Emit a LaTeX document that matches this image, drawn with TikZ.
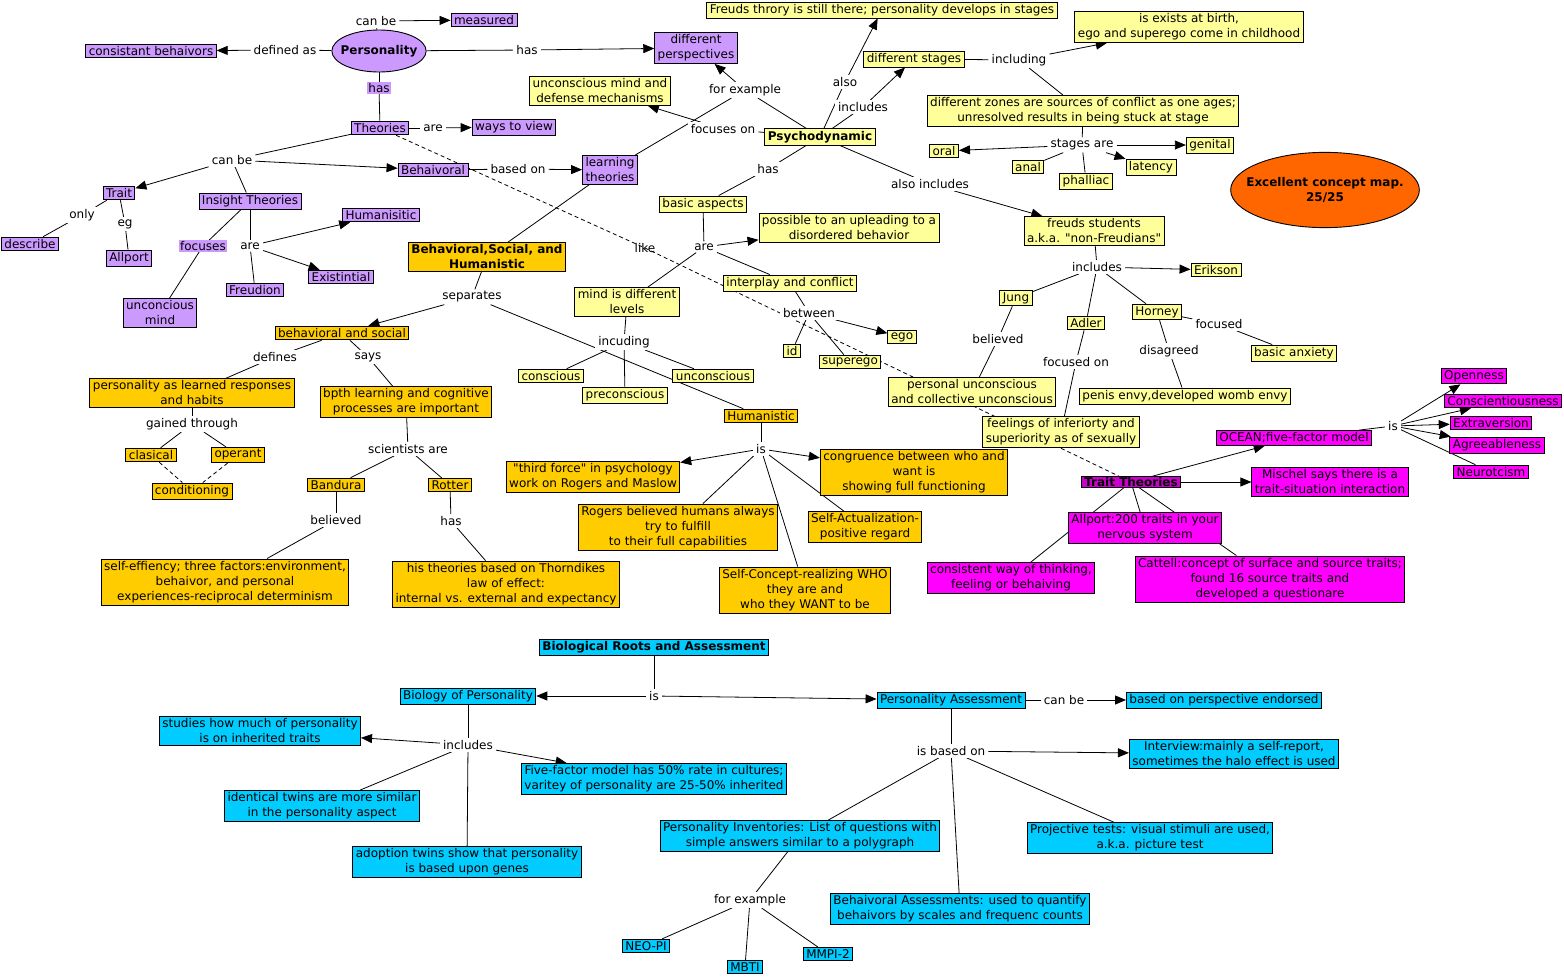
\documentclass[tikz,border=0pt]{standalone}
\usepackage{fontspec}
\setmainfont{DejaVu Sans}[Ligatures=TeXOff]
\usetikzlibrary{arrows.meta,backgrounds,shapes.geometric}
\definecolor{cpur}{RGB}{204,153,255}
\definecolor{cyel}{RGB}{255,255,153}
\definecolor{corg}{RGB}{255,204,0}
\definecolor{cmag}{RGB}{255,0,255}
\definecolor{cdmag}{RGB}{204,0,204}
\definecolor{ccya}{RGB}{0,204,255}
\definecolor{cexc}{RGB}{255,102,0}
\newcommand{\mapfont}{\fontsize{12}{15}\selectfont}
\tikzset{
  txt/.style={font=\mapfont},
  bld/.style={font=\mapfont\bfseries},
  box/.style={txt,draw=black,line width=0.9pt,inner xsep=3pt,inner ysep=2.2pt,align=center},
  pur/.style={box,fill=cpur},
  yel/.style={box,fill=cyel},
  org/.style={box,fill=corg},
  mag/.style={box,fill=cmag},
  cya/.style={box,fill=ccya},
  lab/.style={txt,fill=white,inner xsep=3pt,inner ysep=2pt,align=center},
  labp/.style={lab,fill=cpur,inner sep=1pt},
  ln/.style={line width=0.8pt,black},
  ar/.style={ln,-{Triangle[length=11pt,width=9pt]}},
  dl/.style={ln,dashed,dash pattern=on 4pt off 3pt},
}
\begin{document}
\begin{tikzpicture}[x=1pt,y=-1pt]
\useasboundingbox (0,0) rectangle (1564,977);
% ---------- purple ----------
\node[ellipse,draw,line width=0.9pt,fill=cpur,bld,inner xsep=-5pt,inner ysep=9pt] (pers) at (379,51) {Personality};
\node[pur] (meas) at (484,20) {measured};
\node[pur] (cons) at (151,51) {consistant behaivors};
\node[pur] (dper) at (696,48) {different\\perspectives};
\node[pur] (theo) at (380,128) {Theories};
\node[pur] (ways) at (514,127) {ways to view};
\node[pur] (behv) at (433,170) {Behaivoral};
\node[pur] (lrnt) at (610,170) {learning\\theories};
\node[pur] (trait) at (119,193) {Trait};
\node[pur] (insi) at (250,201) {Insight Theories};
\node[pur] (huma) at (381,215) {Humanisitic};
\node[pur] (desc) at (30,244) {describe};
\node[pur] (allp) at (129,258) {Allport};
\node[pur] (exis) at (341,277) {Existintial};
\node[pur] (freu) at (255,290) {Freudion};
\node[pur] (unmi) at (160,313) {unconcious\\mind};
\node[lab] (lcanbeA) at (376,21) {can be};
\node[lab] (ldefas) at (285,50) {defined as};
\node[lab] (lhasA) at (527,50) {has};
\node[labp] (lhasB) at (379,88) {has};
\node[lab] (lareA) at (433,128) {are};
\node[lab] (lcanbeB) at (232,160) {can be};
\node[lab] (lbasedon) at (518,169) {based on};
\node[lab] (lonly) at (82,215) {only};
\node[lab] (leg) at (125,224) {eg};
\node[labp] (lfocuses) at (203,246) {focuses};
\node[lab] (lareB) at (250,246) {are};
\node[lab,fill=none] (llike) at (645,248) {like};
% ---------- orange ----------
\node[org,bld] (bsh) at (487,257) {Behavioral,Social, and\\Humanistic};
\node[org] (bas) at (342,333) {behavioral and social};
\node[org] (plr) at (192,393) {personality as learned responses\\and habits};
\node[org] (bpth) at (406,402) {bpth learning and cognitive\\processes are important};
\node[org] (clas) at (151,455) {clasical};
\node[org] (oper) at (238,455) {operant};
\node[org] (cond) at (192,491) {conditioning};
\node[org] (band) at (336,485) {Bandura};
\node[org] (rott) at (450,485) {Rotter};
\node[org] (seff) at (225,582) {self-effiency; three factors:environment,\\behaivor, and personal\\experiences-reciprocal determinism};
\node[org] (thor) at (506,584) {his theories based on Thorndikes\\law of effect:\\internal vs. external and expectancy};
\node[org] (hum) at (761,416) {Humanistic};
\node[org] (thf) at (593,477) {"third force" in psychology\\work on Rogers and Maslow};
\node[org] (roge) at (678,527) {Rogers believed humans always\\try to fulfill\\to their full capabilities};
\node[org] (cong) at (914,472) {congruence between who and\\want is\\showing full functioning};
\node[org] (sact) at (865,527) {Self-Actualization-\\positive regard};
\node[org] (scon) at (805,590) {Self-Concept-realizing WHO\\they are and\\who they WANT to be};
\node[lab] (lsep) at (472,297) {separates};
\node[lab] (ldef) at (275,357) {defines};
\node[lab] (lsays) at (368,357) {says};
\node[lab] (lgain) at (192,424) {gained through};
\node[lab] (lsci) at (408,449) {scientists are};
\node[lab] (lbelA) at (336,520) {believed};
\node[lab] (lhasC) at (451,521) {has};
\node[lab] (lisA) at (761,449) {is};
% ---------- yellow ----------
\node[yel,bld] (psy) at (820,137) {Psychodynamic};
\node[yel] (frth) at (882,10) {Freuds throry is still there; personality develops in stages};
\node[yel] (dsta) at (914,59) {different stages};
\node[yel] (iexi) at (1189,27) {is exists at birth,\\ego and superego come in childhood};
\node[yel] (dzon) at (1083,111) {different zones are sources of conflict as one ages;\\unresolved results in being stuck at stage};
\node[yel] (umdm) at (600,91) {unconscious mind and\\defense mechanisms};
\node[yel] (oral) at (944,151) {oral};
\node[yel] (anal) at (1028,167) {anal};
\node[yel] (phal) at (1086,181) {phalliac};
\node[yel] (late) at (1151,167) {latency};
\node[yel] (geni) at (1210,145) {genital};
\node[yel] (basp) at (703,204) {basic aspects};
\node[yel] (poss) at (849,228) {possible to an upleading to a\\disordered behavior};
\node[yel] (intp) at (790,283) {interplay and conflict};
\node[yel] (mind) at (627,302) {mind is different\\levels};
\node[yel] (id) at (792,351) {id};
\node[yel] (ego) at (902,337) {ego};
\node[yel] (supe) at (850,362) {superego};
\node[yel] (consc) at (551,376) {conscious};
\node[yel] (prec) at (625,395) {preconscious};
\node[yel] (uncon) at (713,376) {unconscious};
\node[yel] (fstu) at (1094,231) {freuds students\\a.k.a. "non-Freudians"};
\node[yel] (erik) at (1216,270) {Erikson};
\node[yel] (jung) at (1016,298) {Jung};
\node[yel] (adle) at (1086,323) {Adler};
\node[yel] (horn) at (1157,312) {Horney};
\node[yel] (banx) at (1294,353) {basic anxiety};
\node[yel] (puc) at (972,392) {personal unconscious\\and collective unconscious};
\node[yel] (peni) at (1185,396) {penis envy,developed womb envy};
\node[yel] (feel) at (1061,432) {feelings of inferiorty and\\superiority as of sexually};
\node[lab] (lforex) at (745,90) {for example};
\node[lab] (lfocon) at (723,129) {focuses on};
\node[lab] (lalso) at (845,82) {also};
\node[lab] (linclA) at (863,107) {includes};
\node[lab] (linclB) at (1019,60) {including};
\node[lab] (lstag) at (1082,145) {stages are};
\node[lab] (lhasD) at (768,169) {has};
\node[lab] (lalsoi) at (930,184) {also includes};
\node[lab] (lareC) at (704,247) {are};
\node[lab] (lbetw) at (809,313) {between};
\node[lab] (lincu) at (624,342) {incuding};
\node[lab] (linclC) at (1097,267) {includes};
\node[lab] (lbelB) at (998,339) {believed};
\node[lab] (lfoconB) at (1076,362) {focused on};
\node[lab] (ldisa) at (1169,351) {disagreed};
\node[lab] (lfocd) at (1219,324) {focused};
% ---------- magenta ----------
\node[mag,fill=cdmag,bld,inner ysep=0.5pt] (trth) at (1131,482) {Trait Theories};
\node[mag] (ocea) at (1294,438) {OCEAN;five-factor model};
\node[mag] (misc) at (1330,482) {Mischel says there is a\\trait-situation interaction};
\node[mag] (allpB) at (1145,528) {Allport:200 traits in your\\nervous system};
\node[mag] (cwot) at (1011,578) {consistent way of thinking,\\feeling or behaiving};
\node[mag] (catt) at (1270,579) {Cattell:concept of surface and source traits;\\found 16 source traits and\\developed a questionare};
\node[mag] (open) at (1474,376) {Openness};
\node[mag] (consB) at (1503,401) {Conscientiousness};
\node[mag] (extr) at (1491,423) {Extraversion};
\node[mag] (agre) at (1497,445) {Agreeableness};
\node[mag] (neur) at (1491,472) {Neurotcism};
\node[lab] (lisB) at (1393,426) {is};
% ---------- cyan ----------
\node[cya,bld] (bra) at (654,647) {Biological Roots and Assessment};
\node[cya] (biop) at (468,696) {Biology of Personality};
\node[cya] (pass) at (951,700) {Personality Assessment};
\node[cya] (bpe) at (1224,700) {based on perspective endorsed};
\node[cya] (stud) at (260,731) {studies how much of personality\\is on inherited traits};
\node[cya] (fivf) at (654,779) {Five-factor model has 50\% rate in cultures;\\varitey of personality are 25-50\% inherited};
\node[cya] (iden) at (322,806) {identical twins are more similar\\in the personality aspect};
\node[cya] (adop) at (467,862) {adoption twins show that personality\\is based upon genes};
\node[cya] (intv) at (1234,754) {Interview:mainly a self-report,\\sometimes the halo effect is used};
\node[cya] (pinv) at (800,836) {Personality Inventories: List of questions with\\simple answers similar to a polygraph};
\node[cya] (proj) at (1150,838) {Projective tests: visual stimuli are used,\\a.k.a. picture test};
\node[cya] (bass) at (960,909) {Behaivoral Assessments: used to quantify\\behaivors by scales and frequenc counts};
\node[cya] (neo) at (646,946) {NEO-PI};
\node[cya] (mbti) at (745,967) {MBTI};
\node[cya] (mmpi) at (828,954) {MMPI-2};
\node[lab] (lisC) at (654,696) {is};
\node[lab] (linclD) at (468,745) {includes};
\node[lab] (lcanbeC) at (1064,700) {can be};
\node[lab] (lisb) at (951,751) {is based on};
\node[lab] (lforexB) at (750,900) {for example};
% ---------- grade ----------
\node[ellipse,draw,line width=0.9pt,fill=cexc,align=center,bld,inner xsep=-12pt,inner ysep=14pt] (exc) at (1325,190) {Excellent concept map.\\25/25};
% ---------- connectors ----------
\begin{pgfonlayer}{background}
\fill[white] (0,0) rectangle (1564,977);
% purple
\draw[ln] (pers) -- (lcanbeA); \draw[ar] (lcanbeA) -- (meas);
\draw[ln] (pers) -- (ldefas); \draw[ar] (ldefas) -- (cons);
\draw[ln] (pers) -- (lhasA); \draw[ar] (lhasA) -- (dper);
\draw[ln] (pers) -- (lhasB); \draw[ln] (lhasB) -- (theo);
\draw[ln] (theo) -- (lareA); \draw[ar] (lareA) -- (ways);
\draw[ln] (theo) -- (lcanbeB); \draw[ar] (lcanbeB) -- (trait); \draw[ar] (lcanbeB) -- (behv); \draw[ln] (lcanbeB) -- (insi);
\draw[ln] (behv) -- (lbasedon); \draw[ar] (lbasedon) -- (lrnt);
\draw[ln] (trait) -- (lonly); \draw[ln] (lonly) -- (desc);
\draw[ln] (trait) -- (leg); \draw[ln] (leg) -- (allp);
\draw[ln] (insi) -- (lfocuses); \draw[ln] (lfocuses) -- (unmi);
\draw[ln] (insi) -- (lareB); \draw[ar] (lareB) -- (huma); \draw[ar] (lareB) -- (exis); \draw[ln] (lareB) -- (freu);
\draw[dl] (theo) -- (llike.center) -- (trth);
% orange
\draw[ln] (bsh) -- (lsep); \draw[ar] (lsep) -- (bas); \draw[ln] (lsep) -- (hum);
\draw[ln] (bsh) -- (lrnt); \draw[ln] (lrnt) -- (lforex);
\draw[ln] (bas) -- (ldef); \draw[ln] (ldef) -- (plr);
\draw[ln] (bas) -- (lsays); \draw[ln] (lsays) -- (bpth);
\draw[ln] (plr) -- (lgain); \draw[ln] (lgain) -- (clas); \draw[ln] (lgain) -- (oper);
\draw[dl] (clas) -- (cond); \draw[dl] (oper) -- (cond);
\draw[ln] (bpth) -- (lsci); \draw[ln] (lsci) -- (band); \draw[ln] (lsci) -- (rott);
\draw[ln] (band) -- (lbelA); \draw[ln] (lbelA) -- (seff);
\draw[ln] (rott) -- (lhasC); \draw[ln] (lhasC) -- (thor);
\draw[ln] (hum) -- (lisA); \draw[ar] (lisA) -- (thf); \draw[ar] (lisA) -- (cong);
\draw[ln] (lisA) -- (roge); \draw[ln] (lisA) -- (sact); \draw[ln] (lisA) -- (scon);
% yellow
\draw[ln] (psy) -- (lforex); \draw[ar] (lforex) -- (dper);
\draw[ln] (psy) -- (lfocon); \draw[ar] (lfocon) -- (umdm);
\draw[ln] (psy) -- (lalso); \draw[ar] (lalso) -- (frth);
\draw[ln] (psy) -- (linclA); \draw[ar] (linclA) -- (dsta);
\draw[ln] (dsta) -- (linclB); \draw[ar] (linclB) -- (iexi); \draw[ln] (linclB) -- (dzon);
\draw[ln] (dzon) -- (lstag); \draw[ar] (lstag) -- (oral); \draw[ln] (lstag) -- (anal); \draw[ln] (lstag) -- (phal);
\draw[ar] (lstag) -- (late); \draw[ar] (lstag) -- (geni);
\draw[ln] (psy) -- (lhasD); \draw[ln] (lhasD) -- (basp);
\draw[ln] (psy) -- (lalsoi); \draw[ar] (lalsoi) -- (fstu);
\draw[ln] (basp) -- (lareC); \draw[ar] (lareC) -- (poss); \draw[ln] (lareC) -- (intp); \draw[ln] (lareC) -- (mind);
\draw[ln] (intp) -- (lbetw); \draw[ln] (lbetw) -- (id); \draw[ar] (lbetw) -- (ego); \draw[ln] (lbetw) -- (supe);
\draw[ln] (mind) -- (lincu); \draw[ln] (lincu) -- (consc); \draw[ln] (lincu) -- (prec); \draw[ln] (lincu) -- (uncon);
\draw[ln] (fstu) -- (linclC); \draw[ar] (linclC) -- (erik); \draw[ln] (linclC) -- (jung); \draw[ln] (linclC) -- (adle); \draw[ln] (linclC) -- (horn);
\draw[ln] (jung) -- (lbelB); \draw[ln] (lbelB) -- (puc);
\draw[ln] (adle) -- (lfoconB); \draw[ln] (lfoconB) -- (feel);
\draw[ln] (horn) -- (ldisa); \draw[ln] (ldisa) -- (peni);
\draw[ln] (horn) -- (lfocd); \draw[ln] (lfocd) -- (banx);
% magenta
\draw[ar] (trth) -- (ocea); \draw[ar] (trth) -- (misc);
\draw[ln] (trth) -- (allpB); \draw[ln] (trth) -- (cwot); \draw[ln] (trth) -- (catt);
\draw[ln] (ocea) -- (lisB); \draw[ar] (lisB) -- (open); \draw[ar] (lisB) -- (consB); \draw[ar] (lisB) -- (extr); \draw[ar] (lisB) -- (agre); \draw[ln] (lisB) -- (neur);
% cyan
\draw[ln] (bra) -- (lisC); \draw[ar] (lisC) -- (biop); \draw[ar] (lisC) -- (pass);
\draw[ln] (biop) -- (linclD); \draw[ar] (linclD) -- (stud); \draw[ar] (linclD) -- (fivf); \draw[ln] (linclD) -- (iden); \draw[ln] (linclD) -- (adop);
\draw[ln] (pass) -- (lcanbeC); \draw[ar] (lcanbeC) -- (bpe);
\draw[ln] (pass) -- (lisb); \draw[ar] (lisb) -- (intv); \draw[ln] (lisb) -- (pinv); \draw[ln] (lisb) -- (proj); \draw[ln] (lisb) -- (bass);
\draw[ln] (pinv) -- (lforexB); \draw[ln] (lforexB) -- (neo); \draw[ln] (lforexB) -- (mbti); \draw[ln] (lforexB) -- (mmpi);
\end{pgfonlayer}
\end{tikzpicture}
\end{document}
